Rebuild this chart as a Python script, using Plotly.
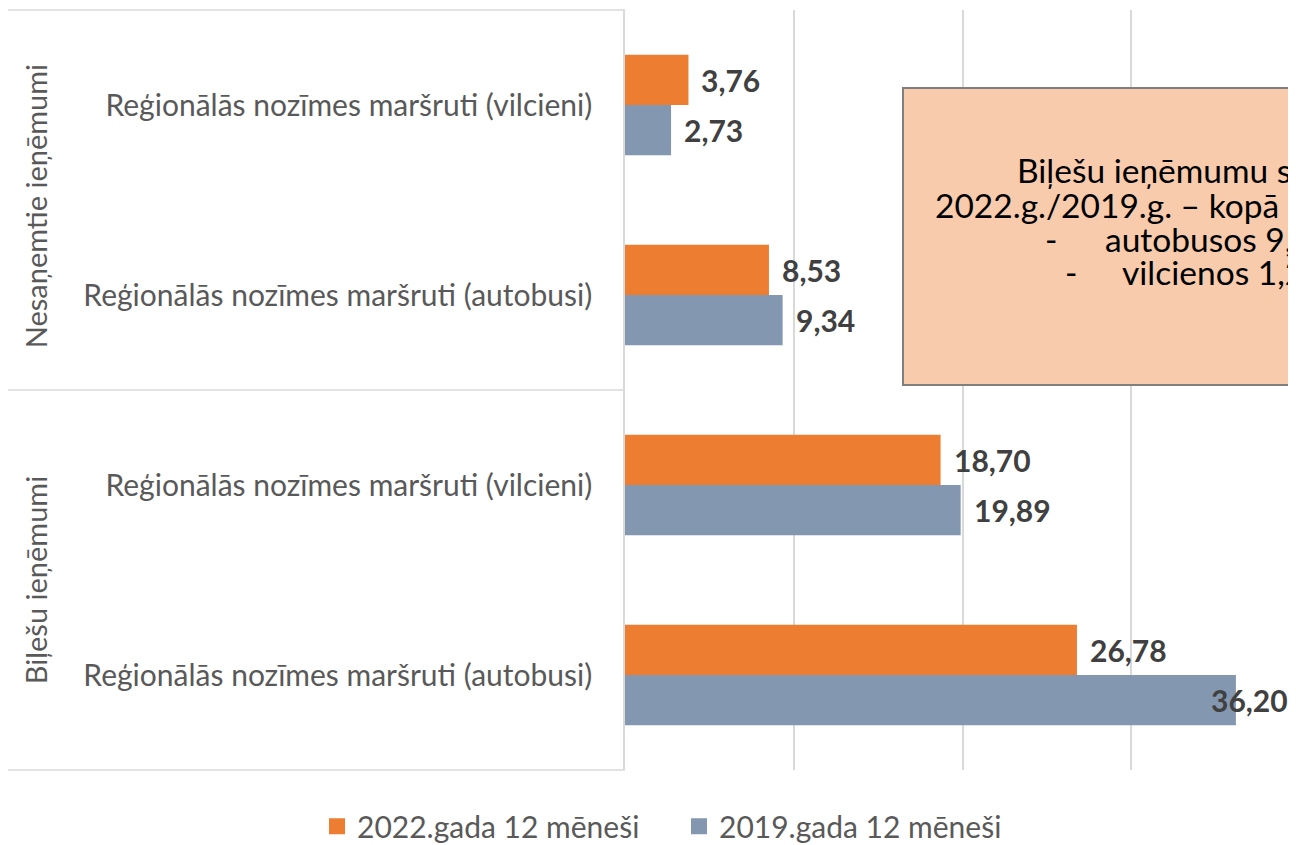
import plotly.graph_objects as go

# ---- data ----
groups = ["Biļešu ieņēmumi", "Biļešu ieņēmumi", "Nesaņemtie ieņēmumi", "Nesaņemtie ieņēmumi"]
categories = [
    "Reģionālās nozīmes maršruti (autobusi)",
    "Reģionālās nozīmes maršruti (vilcieni)",
    "Reģionālās nozīmes maršruti (autobusi)",
    "Reģionālās nozīmes maršruti (vilcieni)",
]
values_2022 = [26.78, 18.70, 8.53, 3.76]
values_2019 = [36.20, 19.89, 9.34, 2.73]
series_names = ["2022.gada 12 mēneši", "2019.gada 12 mēneši"]
box_lines = [
    "Biļešu ieņēmumu samazinājums",
    "2022.g./2019.g. – kopā 10,6 milj. EUR",
    "autobusos 9,4 milj. EUR",
    "vilcienos 1,2 milj. EUR",
]

ORANGE = "#ED7D31"
BLUE = "#8497B0"
GRID = "#D9D9D9"
TXT = "#595959"
FONT = "Lato"

keys = [f"{g}|{c}" for g, c in zip(groups, categories)]
X_MAX = 39.76

fig = go.Figure()
fig.add_trace(go.Bar(y=keys, x=values_2019, orientation="h", name=series_names[1],
                     marker=dict(color=BLUE, line=dict(width=0)), showlegend=False))
fig.add_trace(go.Bar(y=keys, x=values_2022, orientation="h", name=series_names[0],
                     marker=dict(color=ORANGE, line=dict(width=0)), showlegend=False))
# legend entries (larger square swatches)
for nm, col in zip(series_names, (ORANGE, BLUE)):
    fig.add_trace(go.Scatter(x=[None], y=[None], mode="markers", name=nm,
                             marker=dict(symbol="square", size=16, color=col)))


def fmt(v):
    return f"{v:.2f}".replace(".", ",")


label_font = dict(family=FONT, size=30, color="#404040", weight="bold")
annotations = []
for vals, shift in ((values_2022, 25), (values_2019, -25)):
    for k, v in zip(keys, vals):
        if v > X_MAX - 5:
            annotations.append(dict(x=X_MAX, y=k, xref="x", yref="y", text=fmt(v),
                                    xanchor="right", yanchor="middle", yshift=shift, xshift=-6,
                                    showarrow=False, font=label_font))
        else:
            annotations.append(dict(x=v, y=k, xref="x", yref="y", text=fmt(v),
                                    xanchor="left", yanchor="middle", yshift=shift, xshift=11,
                                    showarrow=False, font=label_font))

# group labels
for gname, ypos in (("Nesaņemtie ieņēmumi", 0.742), ("Biļešu ieņēmumi", 0.25)):
    annotations.append(dict(x=-0.879, y=ypos, xref="paper", yref="paper", text=gname,
                            textangle=-90, showarrow=False, xanchor="center", yanchor="middle",
                            font=dict(family=FONT, size=29, color=TXT)))

# text box lines
box_font = dict(family=FONT, size=33.5, color="#000000")
box_x = [0.581, 0.459, 0.7124, 0.7377]
box_y = [0.789, 0.744, 0.699, 0.655]
for t, bx, by in zip(box_lines, box_x, box_y):
    annotations.append(dict(x=bx, y=by, xref="paper", yref="paper", text=t,
                            xanchor="left", yanchor="middle", showarrow=False, font=box_font))
for bx, by in ((0.623, box_y[2]), (0.653, box_y[3])):
    annotations.append(dict(x=bx, y=by, xref="paper", yref="paper", text="-",
                            xanchor="left", yanchor="middle", showarrow=False, font=box_font))

shapes = [
    dict(type="rect", xref="paper", yref="paper", x0=0.4143, x1=1.3, y0=0.5066, y1=0.8974,
         fillcolor="#F8CBAD", line=dict(color="#7F7F7F", width=2), layer="above"),
]
for yy in (0, 0.5, 1):
    shapes.append(dict(type="line", xref="paper", yref="paper", x0=-0.9195, x1=0, y0=yy, y1=yy,
                       line=dict(color=GRID, width=1.5)))

fig.update_layout(
    width=1288, height=853,
    margin=dict(l=617, r=0, t=2, b=91),
    paper_bgcolor="white", plot_bgcolor="white",
    barmode="group", bargap=0.47, bargroupgap=0,
    font=dict(family=FONT, color=TXT),
    xaxis=dict(range=[0, X_MAX], dtick=10, showgrid=True, gridcolor=GRID, gridwidth=1.5,
               showticklabels=False, zeroline=False, showline=False, fixedrange=True),
    yaxis=dict(type="category", categoryorder="array", categoryarray=keys,
               tickmode="array", tickvals=keys, ticktext=categories,
               tickfont=dict(family=FONT, size=30, color=TXT),
               showline=True, linecolor=GRID, linewidth=1.5, showgrid=False,
               ticks="", ticklabelstandoff=25),
    legend=dict(orientation="h", x=-0.459, xanchor="left", y=-0.074, yanchor="middle",
                font=dict(family=FONT, size=30, color=TXT),
                entrywidth=317, entrywidthmode="pixels", traceorder="normal"),
    annotations=annotations,
    shapes=shapes,
    showlegend=True,
)

fig.write_html("out.html")
